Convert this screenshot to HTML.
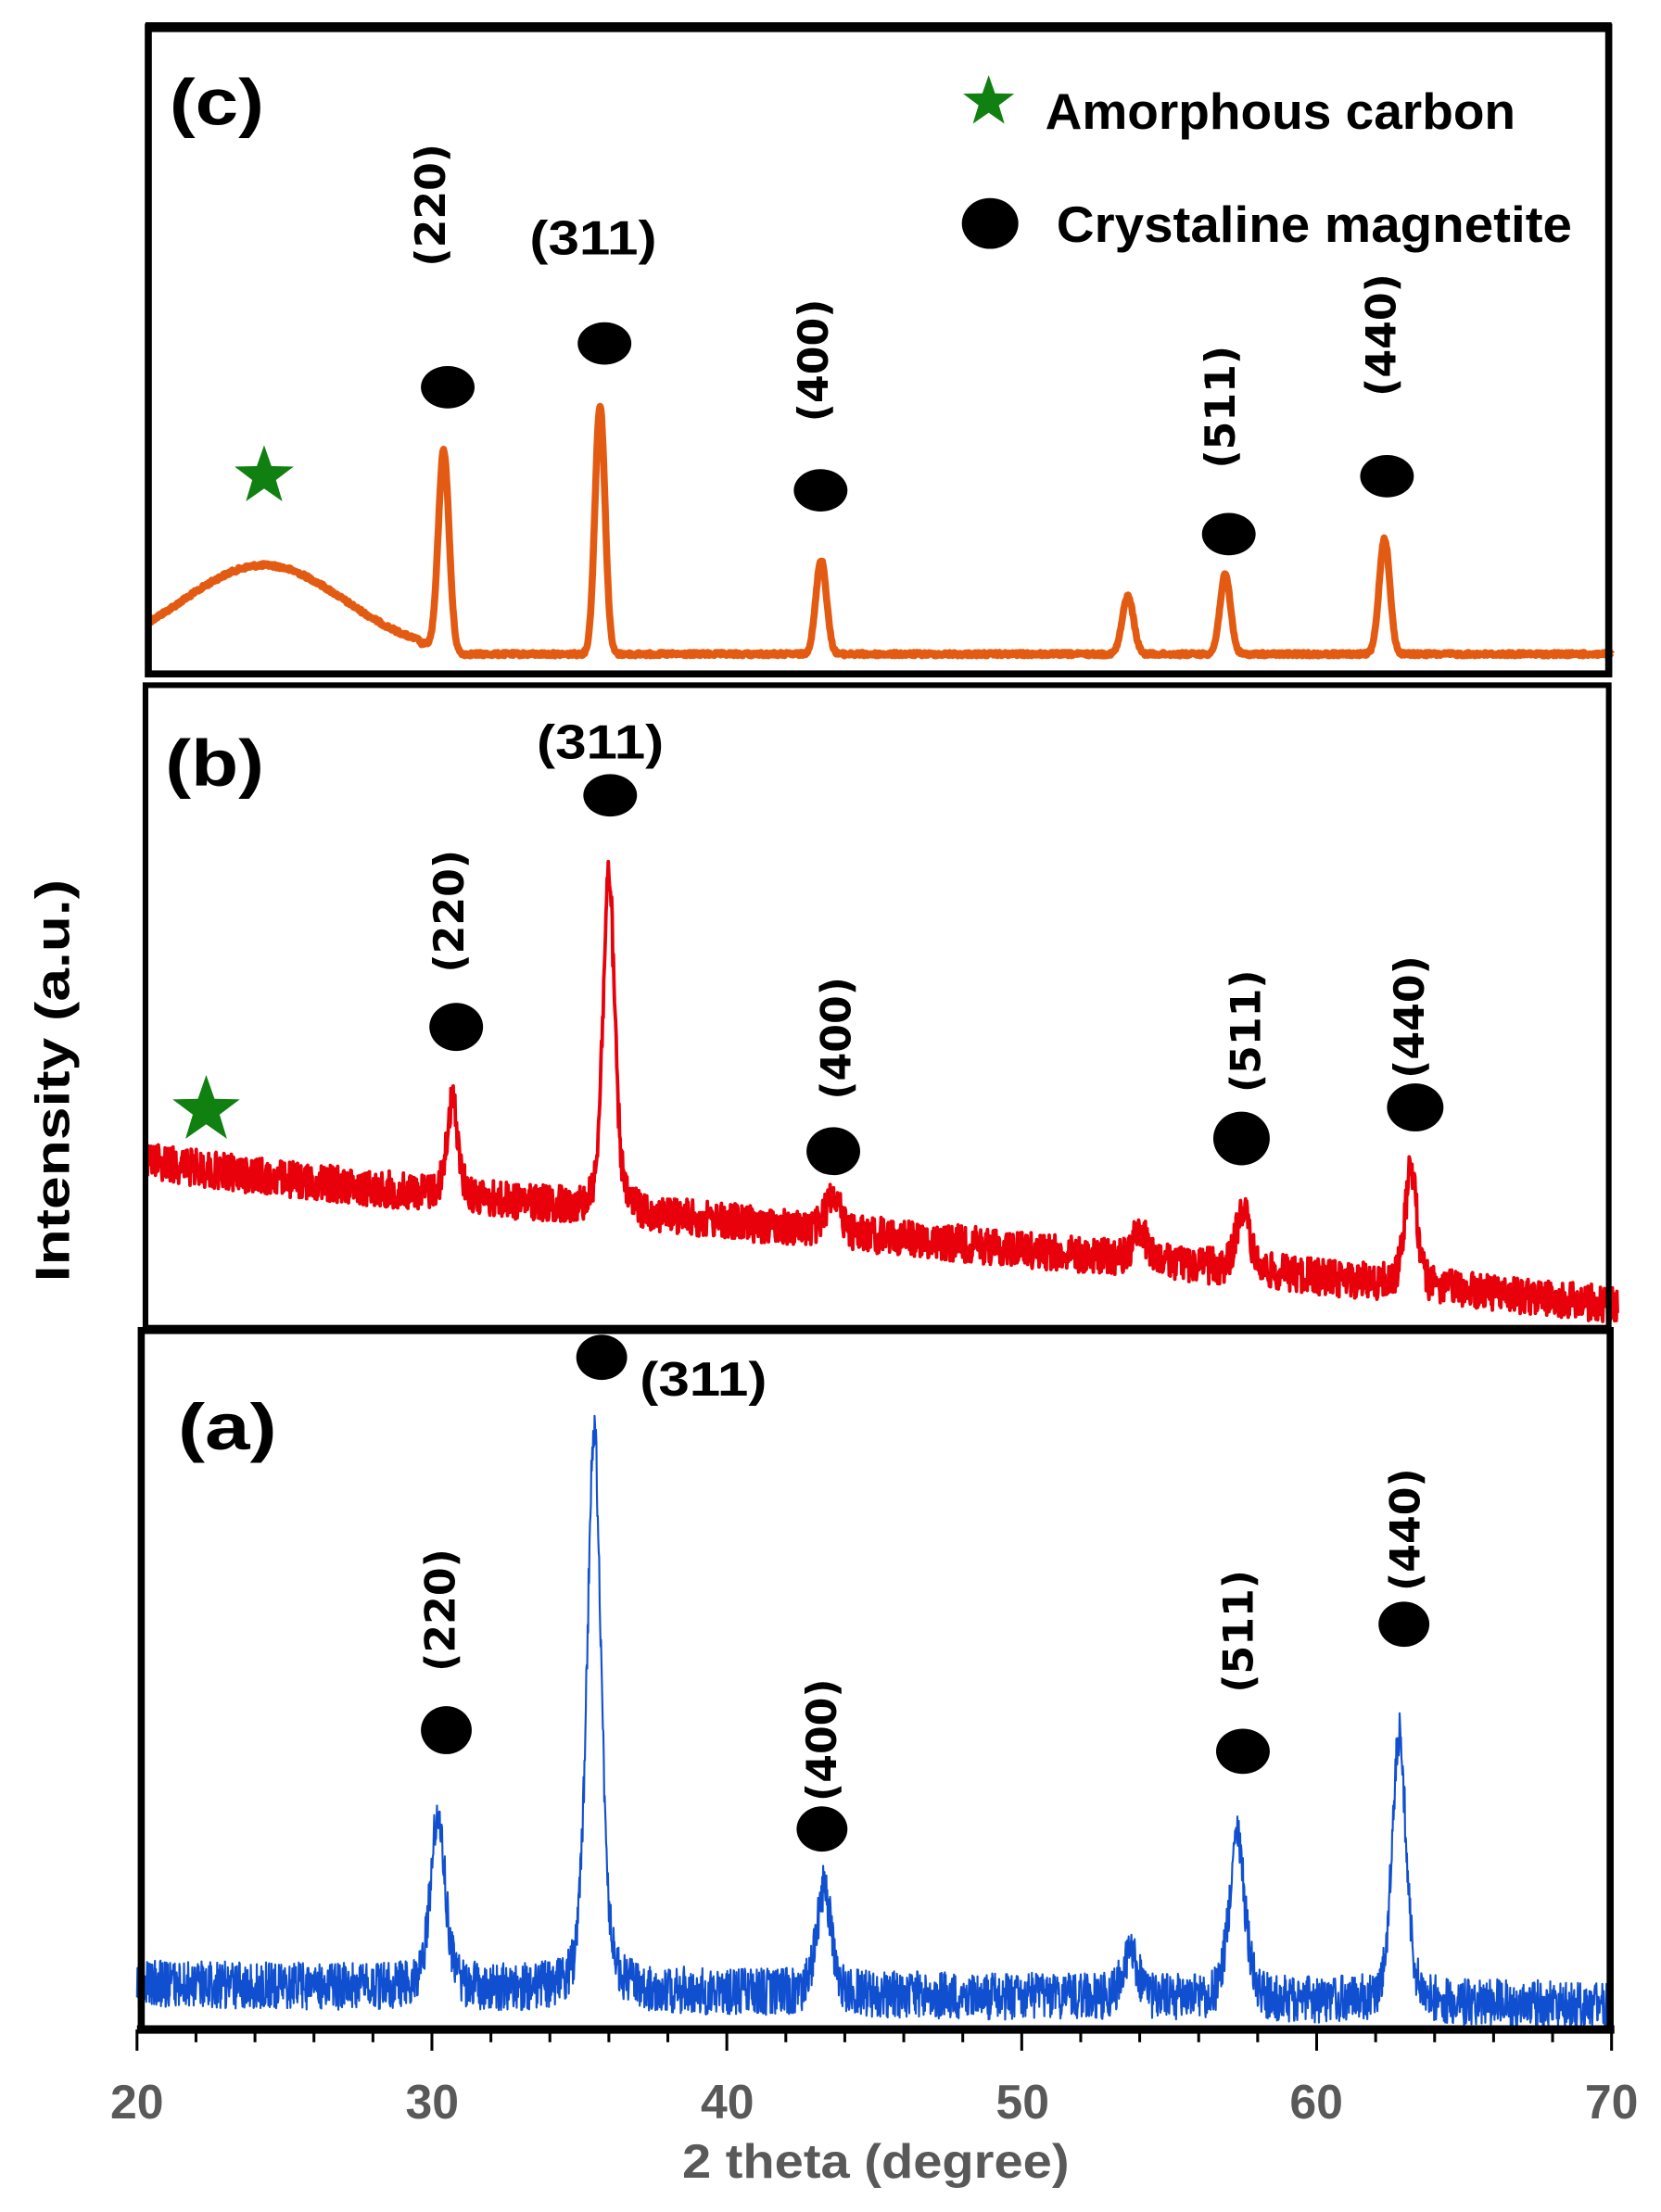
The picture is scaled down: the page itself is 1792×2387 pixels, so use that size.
<!DOCTYPE html>
<html><head><meta charset="utf-8">
<style>
html,body{margin:0;padding:0;background:#fff;}
svg{display:block;}
.cond{font-family:"Liberation Sans",sans-serif;font-weight:bold;}
.rot{font-family:"DejaVu Sans",sans-serif;font-weight:bold;font-size:29px;}
</style></head>
<body>
<svg id="s" xmlns="http://www.w3.org/2000/svg" width="1792" height="2387" viewBox="0 0 1176 1566">
<rect x="0" y="0" width="1176" height="1566" fill="#fff"/>
<g id="curves"></g>
<rect x="105" y="19" width="1034" height="458" fill="none" stroke="#000" stroke-width="5"/>
<line x1="103" y1="19" x2="1141" y2="19" stroke="#000" stroke-width="7"/>
<rect x="103" y="485" width="1036" height="455" fill="none" stroke="#000" stroke-width="4"/>
<rect x="100" y="942" width="1040" height="495" fill="none" stroke="#000" stroke-width="5"/>
<line x1="97" y1="1437" x2="1143" y2="1437" stroke="#000" stroke-width="6"/>
<g id="ticks" stroke="#000" stroke-width="2"></g>
<g class="cond" font-size="34" fill="#595959" text-anchor="middle">
<text x="97" y="1500">20</text><text x="306" y="1500">30</text><text x="515" y="1500">40</text>
<text x="724" y="1500">50</text><text x="932" y="1500">60</text><text x="1141" y="1500">70</text>
<text x="620" y="1542" textLength="274" lengthAdjust="spacingAndGlyphs">2 theta (degree)</text>
</g>
<text class="cond" font-size="34" fill="#000" text-anchor="middle" transform="translate(49,765) rotate(-90)" textLength="285" lengthAdjust="spacingAndGlyphs">Intensity (a.u.)</text>
<g class="cond" font-size="46" fill="#000">
<text x="120" y="88" textLength="67" lengthAdjust="spacingAndGlyphs">(c)</text>
<text x="117" y="556" textLength="70" lengthAdjust="spacingAndGlyphs">(b)</text>
<text x="126" y="1026" textLength="70" lengthAdjust="spacingAndGlyphs">(a)</text>
</g>
<g class="cond" font-size="36" fill="#000">
<text x="740" y="91" textLength="333" lengthAdjust="spacingAndGlyphs">Amorphous carbon</text>
<text x="748" y="171" textLength="365" lengthAdjust="spacingAndGlyphs">Crystaline magnetite</text>
</g>
<g fill="#000">
<ellipse cx="701" cy="158" rx="20" ry="18"/>
<ellipse cx="317" cy="274" rx="19" ry="15"/><ellipse cx="428" cy="243" rx="19" ry="15"/>
<ellipse cx="581" cy="347" rx="19" ry="15"/><ellipse cx="870" cy="378" rx="19" ry="15"/>
<ellipse cx="982" cy="337" rx="19" ry="15"/>
<ellipse cx="323" cy="727" rx="19" ry="17"/><ellipse cx="432" cy="563" rx="19" ry="15"/>
<ellipse cx="590" cy="815" rx="19" ry="17"/><ellipse cx="879" cy="806" rx="20" ry="19"/>
<ellipse cx="1002" cy="784" rx="20" ry="17"/>
<ellipse cx="316" cy="1225" rx="18" ry="17"/><ellipse cx="426" cy="961" rx="18" ry="16"/>
<ellipse cx="582" cy="1295" rx="18" ry="16"/><ellipse cx="880" cy="1240" rx="19" ry="16"/>
<ellipse cx="994" cy="1150" rx="18" ry="16"/>
</g>
<g id="stars" fill="#108010"></g>
<g class="cond" font-size="34" fill="#000">
<text x="375" y="180" textLength="90" lengthAdjust="spacingAndGlyphs">(311)</text>
<text x="380" y="537" textLength="90" lengthAdjust="spacingAndGlyphs">(311)</text>
<text x="453" y="988" textLength="90" lengthAdjust="spacingAndGlyphs">(311)</text>
</g>
<g class="rot" fill="#000" text-anchor="middle">
<text transform="translate(305,145) rotate(-90)" dy="10">(220)</text>
<text transform="translate(576,255) rotate(-90)" dy="10">(400)</text>
<text transform="translate(864,288) rotate(-90)" dy="10">(511)</text>
<text transform="translate(978,237) rotate(-90)" dy="10">(440)</text>
<text transform="translate(318,645) rotate(-90)" dy="10">(220)</text>
<text transform="translate(592,735) rotate(-90)" dy="10">(400)</text>
<text transform="translate(882,730) rotate(-90)" dy="10">(511)</text>
<text transform="translate(998,720) rotate(-90)" dy="10">(440)</text>
<text transform="translate(312,1140) rotate(-90)" dy="10">(220)</text>
<text transform="translate(582,1232) rotate(-90)" dy="10">(400)</text>
<text transform="translate(877,1155) rotate(-90)" dy="10">(511)</text>
<text transform="translate(995,1083) rotate(-90)" dy="10">(440)</text>
</g>
</svg>
<script>
(function(){
var NS="http://www.w3.org/2000/svg";
function X(d){return 97+20.88*(d-20);}
var seed=12345;function rnd(){seed=(seed*1103515245+12345)%2147483648;return seed/2147483648;}
function pv(d,c,s){var g=Math.exp(-(d-c)*(d-c)/(2*s*s));var l=1/(1+((d-c)/s)*((d-c)/s));return 0.6*g+0.4*l;}
function curve(n,d0,d1,f,col,w){var p="";for(var i=0;i<=n;i++){var d=d0+(d1-d0)*i/n;var y=f(d);p+=(i?"L":"M")+X(d).toFixed(2)+" "+y.toFixed(2);}
var e=document.createElementNS(NS,"path");e.setAttribute("d",p);e.setAttribute("fill","none");e.setAttribute("stroke",col);e.setAttribute("stroke-width",w);e.setAttribute("stroke-linejoin","round");document.getElementById("curves").appendChild(e);}
curve(2000,20.4,70,function(d){
 var pk=[[30.4,141,0.18],[35.7,176,0.17],[43.2,67,0.18],[53.6,41,0.19],[56.9,56,0.18],[62.3,82,0.18]];
 var hump=(d<29.6)?(63*Math.exp(-(d-24.3)*(d-24.3)/(2*7.5))):0; var y=463-hump;
 if(d>=29.6&&d<31) y=463-8*Math.max(0,(31-d)/1.4);
 for(var k=0;k<pk.length;k++){var t=(d-pk[k][0])/pk[k][2];y-=pk[k][1]*Math.exp(-t*t/2);}
 return y+(rnd()-0.5)*2.5;},"#E35B12",5);
curve(2600,20.3,70.2,function(d){var base=826+(d-20)*1.95-6*Math.exp(-(d-20)/3);
 var pk=[[30.7,68,0.2],[36.0,240,0.21],[43.6,28,0.24],[54.0,22,0.24],[57.5,45,0.23],[63.2,85,0.21]];
 var y=base;for(var k=0;k<pk.length;k++)y-=pk[k][1]*pv(d,pk[k][0],pk[k][2]);
 return y+(rnd()-0.5)*26;},"#E8000A",2.5);
curve(3200,20,70,function(d){var base=1405+(d-20)*0.3;
 var pk=[[30.2,125,0.26],[35.5,400,0.25],[43.3,75,0.26],[53.7,30,0.28],[57.3,115,0.28],[62.8,190,0.25]];
 var y=base;for(var k=0;k<pk.length;k++)y-=pk[k][1]*pv(d,pk[k][0],pk[k][2]);
 var r=rnd();return y+(r-0.5)*34+(r>0.985?-20:0);},"#1050D0",1.4);
var tg=document.getElementById("ticks");
for(var d=20;d<=70;d+=2){var l=document.createElementNS(NS,"line");var x=X(d);l.setAttribute("x1",x);l.setAttribute("x2",x);l.setAttribute("y1",1437);l.setAttribute("y2",(d%10==0)?1452:1446);tg.appendChild(l);}
function star(cx,cy,R){var r=R*0.4,p=[];for(var i=0;i<10;i++){var a=-Math.PI/2+i*Math.PI/5;var rr=i%2?r:R;p.push((cx+rr*Math.cos(a)).toFixed(1)+","+(cy+rr*Math.sin(a)).toFixed(1));}
var e=document.createElementNS(NS,"polygon");e.setAttribute("points",p.join(" "));document.getElementById("stars").appendChild(e);}
star(700,72,19);star(187,337,22);star(146,786,25);
})();
</script>
</body></html>
